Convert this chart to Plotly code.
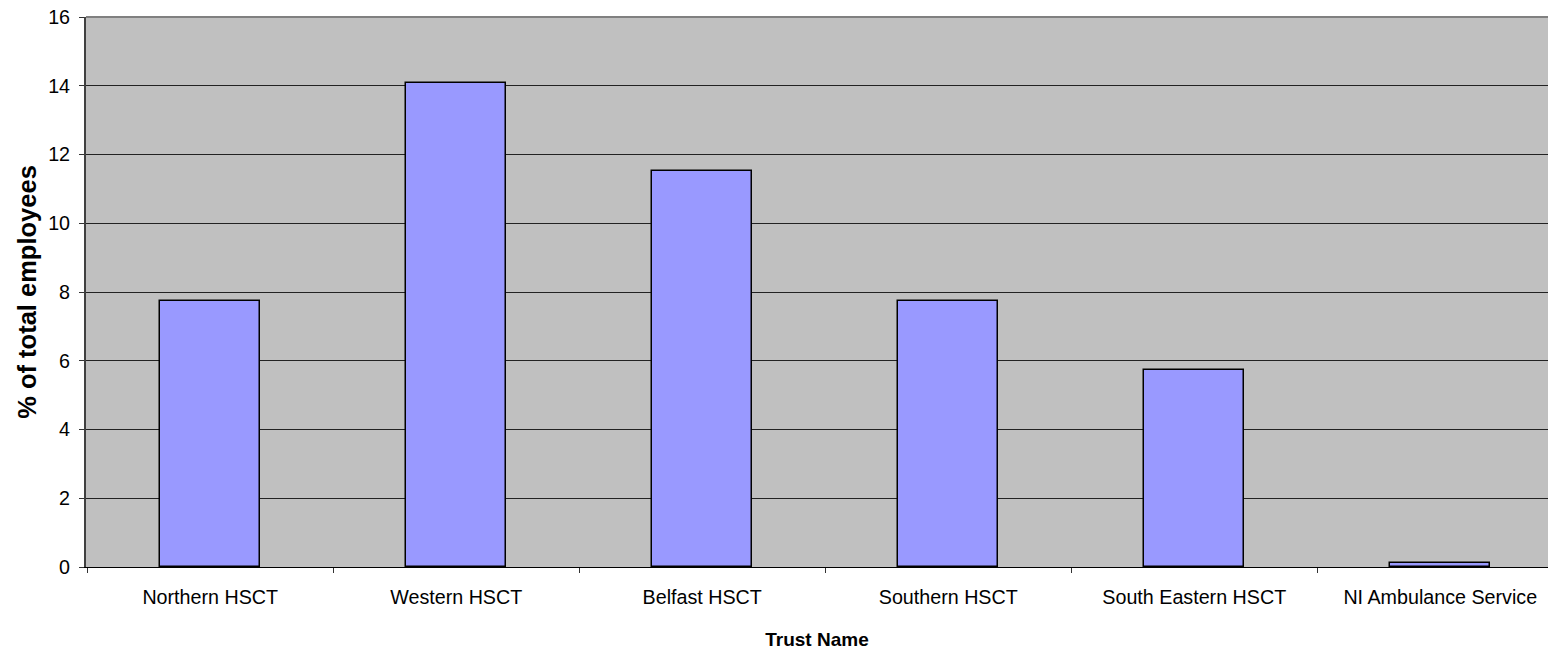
import plotly.graph_objects as go

categories = ["Northern HSCT", "Western HSCT", "Belfast HSCT", "Southern HSCT",
              "South Eastern HSCT", "NI Ambulance Service"]
values = [7.75, 14.08, 11.52, 7.75, 5.72, 0.12]
y_ticks = [0, 2, 4, 6, 8, 10, 12, 14, 16]

fig = go.Figure()
fig.add_trace(go.Bar(
    x=categories, y=values,
    width=0.406,
    marker=dict(color="#9999FF", line=dict(color="#000000", width=1.5)),
))

font = "Liberation Sans, Arial, sans-serif"
fig.update_layout(
    width=1548, height=652,
    margin=dict(l=86, r=0, t=17, b=85),
    paper_bgcolor="white",
    plot_bgcolor="#C0C0C0",
    showlegend=False,
    font=dict(family=font, size=19.7, color="black"),
    bargap=0,
    xaxis=dict(
        type="category",
        range=[-0.505, 5.438],
        automargin=False,
        showgrid=False,
        showline=True, linecolor="black", linewidth=1,
        ticks="outside", tickson="boundaries", ticklen=5, tickcolor="#333333",
        ticklabelstandoff=12,
        tickfont=dict(size=19.7, family=font),
        title=dict(text="<b>Trust Name</b>", font=dict(size=19, family=font), standoff=26),
    ),
    yaxis=dict(
        range=[0, 16],
        tickvals=y_ticks,
        automargin=False,
        showgrid=True, gridcolor="#222222", gridwidth=1,
        showline=True, linecolor="#404040", linewidth=2,
        ticks="outside", ticklen=5, tickcolor="#333333",
        ticklabelstandoff=5,
        tickfont=dict(size=19.7, family=font),
        zeroline=False,
        title=dict(text="<b>% of total employees</b>", font=dict(size=25.5, family=font), standoff=4),
    ),
    shapes=[dict(type="line", xref="paper", yref="paper", x0=0, x1=1, y0=1, y1=1,
                 line=dict(color="#808080", width=2))],
)

fig.write_html("out.html",
               config={"displayModeBar": False},
               post_script="document.body.style.margin='0px';document.body.style.overflow='hidden';")
